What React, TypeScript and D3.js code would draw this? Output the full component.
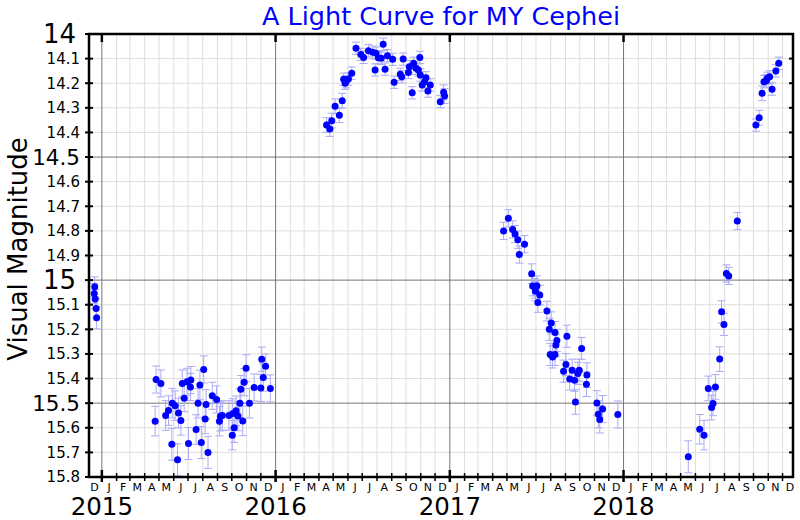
import React from "react";
import * as d3 from "d3";

type Obs = [string, number, number];

const TITLE = "A Light Curve for MY Cephei";
const Y_LABEL = "Visual Magnitude";
const MONTH_LETTERS = ["J", "F", "M", "A", "M", "J", "J", "A", "S", "O", "N", "D"];
const YEARS = [2015, 2016, 2017, 2018];
const Y_TICKS = d3.range(0, 19).map((i) => +(14 + i * 0.1).toFixed(1));

// [date, visual magnitude, error]
const obs2014: Obs[] = [
  ["2014-12-16", 15.054, 0.04], ["2014-12-17", 15.027, 0.04], ["2014-12-18", 15.077, 0.04],
  ["2014-12-20", 15.115, 0.04], ["2014-12-21", 15.153, 0.045],
];
const obs2015: Obs[] = [
  ["2015-04-23", 15.573, 0.06], ["2015-04-25", 15.404, 0.055], ["2015-05-05", 15.42, 0.055],
  ["2015-05-15", 15.55, 0.06], ["2015-05-21", 15.53, 0.06], ["2015-05-28", 15.667, 0.065],
  ["2015-05-29", 15.5, 0.06], ["2015-06-04", 15.51, 0.06], ["2015-06-09", 15.73, 0.065],
  ["2015-06-11", 15.54, 0.06], ["2015-06-16", 15.57, 0.06], ["2015-06-19", 15.42, 0.055],
  ["2015-06-23", 15.48, 0.055], ["2015-06-29", 15.413, 0.055], ["2015-07-02", 15.664, 0.065],
  ["2015-07-06", 15.434, 0.055], ["2015-07-07", 15.406, 0.055], ["2015-07-18", 15.607, 0.06],
  ["2015-07-22", 15.5, 0.06], ["2015-07-26", 15.426, 0.06], ["2015-07-29", 15.66, 0.065],
  ["2015-08-03", 15.363, 0.055], ["2015-08-06", 15.564, 0.06], ["2015-08-08", 15.505, 0.06],
  ["2015-08-12", 15.7, 0.065], ["2015-08-21", 15.47, 0.055], ["2015-08-30", 15.485, 0.055],
  ["2015-09-05", 15.573, 0.06], ["2015-09-07", 15.553, 0.06], ["2015-09-11", 15.55, 0.06],
  ["2015-09-25", 15.55, 0.06], ["2015-10-02", 15.63, 0.06], ["2015-10-03", 15.542, 0.06],
  ["2015-10-06", 15.6, 0.06], ["2015-10-10", 15.531, 0.06], ["2015-10-14", 15.552, 0.06],
  ["2015-10-18", 15.5, 0.06], ["2015-10-20", 15.443, 0.055], ["2015-10-24", 15.572, 0.06],
  ["2015-10-27", 15.415, 0.055], ["2015-10-31", 15.358, 0.055], ["2015-11-07", 15.5, 0.06],
  ["2015-11-17", 15.436, 0.055], ["2015-12-01", 15.438, 0.055], ["2015-12-03", 15.322, 0.05],
  ["2015-12-06", 15.396, 0.055], ["2015-12-11", 15.35, 0.05], ["2015-12-21", 15.44, 0.055],
];
const obs2016: Obs[] = [
  ["2016-04-17", 14.37, 0.03], ["2016-04-24", 14.386, 0.03], ["2016-04-28", 14.352, 0.03],
  ["2016-05-05", 14.294, 0.03], ["2016-05-14", 14.33, 0.03], ["2016-05-20", 14.271, 0.03],
  ["2016-05-23", 14.184, 0.025], ["2016-05-26", 14.2, 0.025], ["2016-05-28", 14.194, 0.025],
  ["2016-06-02", 14.183, 0.025], ["2016-06-09", 14.159, 0.025], ["2016-06-18", 14.058, 0.025],
  ["2016-06-28", 14.083, 0.025], ["2016-07-04", 14.095, 0.025], ["2016-07-14", 14.068, 0.025],
  ["2016-07-23", 14.074, 0.025], ["2016-07-28", 14.146, 0.025], ["2016-07-30", 14.078, 0.025],
  ["2016-08-04", 14.096, 0.025], ["2016-08-10", 14.099, 0.025], ["2016-08-14", 14.042, 0.025],
  ["2016-08-18", 14.143, 0.025], ["2016-08-23", 14.088, 0.025], ["2016-09-03", 14.103, 0.025],
  ["2016-09-06", 14.196, 0.025], ["2016-09-19", 14.164, 0.025], ["2016-09-22", 14.174, 0.025],
  ["2016-09-25", 14.102, 0.025], ["2016-10-06", 14.156, 0.025], ["2016-10-08", 14.133, 0.025],
  ["2016-10-14", 14.239, 0.025], ["2016-10-17", 14.119, 0.025], ["2016-10-22", 14.139, 0.025],
  ["2016-10-27", 14.146, 0.025], ["2016-10-30", 14.095, 0.025], ["2016-10-31", 14.167, 0.025],
  ["2016-11-04", 14.207, 0.025], ["2016-11-09", 14.194, 0.025], ["2016-11-12", 14.178, 0.025],
  ["2016-11-16", 14.232, 0.025], ["2016-11-21", 14.207, 0.025], ["2016-12-12", 14.275, 0.025],
  ["2016-12-19", 14.237, 0.03], ["2016-12-21", 14.252, 0.03],
];
const obs2017: Obs[] = [
  ["2017-04-24", 14.8, 0.035], ["2017-05-04", 14.749, 0.035], ["2017-05-13", 14.794, 0.035],
  ["2017-05-18", 14.813, 0.035], ["2017-05-24", 14.836, 0.035], ["2017-05-27", 14.896, 0.035],
  ["2017-06-07", 14.854, 0.035], ["2017-06-22", 14.974, 0.04], ["2017-06-24", 15.024, 0.04],
  ["2017-06-29", 15.034, 0.04], ["2017-06-30", 15.045, 0.04], ["2017-07-03", 15.023, 0.04],
  ["2017-07-05", 15.091, 0.04], ["2017-07-09", 15.061, 0.04], ["2017-07-24", 15.126, 0.04],
  ["2017-07-29", 15.2, 0.045], ["2017-07-31", 15.302, 0.045], ["2017-08-02", 15.174, 0.045],
  ["2017-08-05", 15.312, 0.045], ["2017-08-10", 15.213, 0.045], ["2017-08-10", 15.302, 0.045],
  ["2017-08-12", 15.264, 0.045], ["2017-08-14", 15.245, 0.045], ["2017-08-28", 15.37, 0.045],
  ["2017-09-02", 15.343, 0.045], ["2017-09-04", 15.228, 0.045], ["2017-09-10", 15.402, 0.045],
  ["2017-09-15", 15.366, 0.045], ["2017-09-20", 15.407, 0.045], ["2017-09-22", 15.495, 0.05],
  ["2017-09-27", 15.379, 0.045], ["2017-09-30", 15.366, 0.045], ["2017-10-05", 15.278, 0.045],
  ["2017-10-15", 15.423, 0.05], ["2017-10-16", 15.386, 0.05], ["2017-11-06", 15.499, 0.05],
  ["2017-11-09", 15.545, 0.055], ["2017-11-12", 15.566, 0.055], ["2017-11-18", 15.524, 0.055],
  ["2017-12-20", 15.546, 0.055],
];
const obs2018: Obs[] = [
  ["2018-05-17", 15.718, 0.065], ["2018-06-10", 15.606, 0.06], ["2018-06-19", 15.63, 0.06],
  ["2018-06-28", 15.44, 0.05], ["2018-07-05", 15.518, 0.05], ["2018-07-08", 15.501, 0.05],
  ["2018-07-13", 15.434, 0.05], ["2018-07-22", 15.321, 0.05], ["2018-07-26", 15.129, 0.045],
  ["2018-07-31", 15.18, 0.045], ["2018-08-05", 14.973, 0.035], ["2018-08-10", 14.983, 0.035],
  ["2018-08-28", 14.76, 0.035], ["2018-10-06", 14.37, 0.025], ["2018-10-13", 14.34, 0.03],
  ["2018-10-19", 14.241, 0.03], ["2018-10-23", 14.194, 0.025], ["2018-10-28", 14.19, 0.025],
  ["2018-10-30", 14.18, 0.025], ["2018-11-04", 14.174, 0.025], ["2018-11-09", 14.224, 0.025],
  ["2018-11-17", 14.15, 0.025], ["2018-11-23", 14.119, 0.025],
];

const allObs = [...obs2014, ...obs2015, ...obs2016, ...obs2017, ...obs2018];

const W = 800;
const H = 520;
const L = 89;
const R = 793;
const T = 34;
const B = 477;
const FONT = "DejaVu Sans, sans-serif";

const parse = d3.utcParse("%Y-%m-%d");

export default function App() {
  const x = d3
    .scaleUtc()
    .domain([new Date(Date.UTC(2014, 11, 5)), new Date(Date.UTC(2018, 11, 23))])
    .range([L, R]);
  const y = d3.scaleLinear().domain([14, 15.8]).range([T, B]);

  const months = d3.utcMonth.range(new Date(Date.UTC(2014, 11, 1)), new Date(Date.UTC(2019, 0, 1)));
  const monthBounds = months.filter((m) => x(m) >= L && x(m) <= R);
  const isYear = (m: Date) => m.getUTCMonth() === 0;

  const tickSize = (v: number) => {
    const r = Math.round(v * 10);
    if (r % 10 === 0) return 26;
    if (r % 5 === 0) return 21.5;
    return 15;
  };
  const isMajorY = (v: number) => Math.round(v * 10) % 5 === 0;
  const isInt = (v: number) => Math.round(v * 10) % 10 === 0;

  return (
    <svg
      width={W}
      height={H}
      style={{ position: "absolute", left: 0, top: 0, background: "#fff" }}
      fontFamily={FONT}
    >
      <rect x={0} y={0} width={W} height={H} fill="#fff" />
      {/* minor grid */}
      <g stroke="#dedede" strokeWidth={1}>
        {monthBounds.filter((m) => !isYear(m)).map((m, i) => (
          <line key={"mv" + i} x1={x(m)} x2={x(m)} y1={T} y2={B} />
        ))}
        {Y_TICKS.filter((v) => !isMajorY(v)).map((v, i) => (
          <line key={"mh" + i} x1={L} x2={R} y1={y(v)} y2={y(v)} />
        ))}
      </g>
      {/* major grid */}
      <g stroke="#777" strokeWidth={1}>
        {monthBounds.filter(isYear).map((m, i) => (
          <line key={"Mv" + i} x1={x(m)} x2={x(m)} y1={T} y2={B} />
        ))}
        {Y_TICKS.filter((v) => isMajorY(v) && v > 14 && v < 15.8).map((v, i) => (
          <line key={"Mh" + i} x1={L} x2={R} y1={y(v)} y2={y(v)} />
        ))}
      </g>
      {/* error bars */}
      <g stroke="#aaaaf8" strokeWidth={1}>
        {allObs.map((o, i) => {
          const cx = x(parse(o[0]) as Date);
          const y1 = y(o[1] - o[2]);
          const y2 = y(o[1] + o[2]);
          return (
            <g key={"e" + i}>
              <line x1={cx} x2={cx} y1={y1} y2={y2} />
              <line x1={cx - 4} x2={cx + 4} y1={y1} y2={y1} />
              <line x1={cx - 4} x2={cx + 4} y1={y2} y2={y2} />
            </g>
          );
        })}
      </g>
      {/* points */}
      <g fill="#0000ff">
        {allObs.map((o, i) => (
          <circle key={"p" + i} cx={x(parse(o[0]) as Date)} cy={y(o[1])} r={3.5} />
        ))}
      </g>
      {/* frame */}
      <rect x={L} y={T} width={R - L} height={B - T} fill="none" stroke="#000" strokeWidth={2.5} />
      {/* left & right ticks */}
      <g stroke="#000" strokeWidth={2}>
        {Y_TICKS.map((v, i) => (
          <g key={"yt" + i}>
            <line x1={L - 4} x2={L + 4} y1={y(v)} y2={y(v)} />
            <line x1={R - 4} x2={R + 1} y1={y(v)} y2={y(v)} />
          </g>
        ))}
      </g>
      {/* bottom ticks */}
      <g stroke="#000">
        {monthBounds.map((m, i) => (
          <line
            key={"xt" + i}
            x1={x(m)}
            x2={x(m)}
            y1={isYear(m) ? B - 7 : B - 4}
            y2={isYear(m) ? B + 5 : B + 4}
            strokeWidth={isYear(m) ? 2.5 : 1.5}
          />
        ))}
        {monthBounds.filter(isYear).map((m, i) => (
          <line key={"tt" + i} x1={x(m)} x2={x(m)} y1={T} y2={T + 8} strokeWidth={2.5} />
        ))}
      </g>
      {/* y tick labels */}
      <g fill="#000" textAnchor="end">
        {Y_TICKS.map((v, i) => (
          <text
            key={"yl" + i}
            x={isInt(v) ? 76 : 80}
            y={y(v)}
            dy="0.36em"
            fontSize={tickSize(v)}
          >
            {isInt(v) ? String(Math.round(v)) : v.toFixed(1)}
          </text>
        ))}
      </g>
      {/* month labels */}
      <g fill="#000" textAnchor="middle" fontSize={11}>
        {months.map((m, i) => {
          const next = d3.utcMonth.offset(m, 1);
          const cx = (x(m) + x(next)) / 2;
          return (
            <text key={"ml" + i} x={cx} y={490.5}>
              {MONTH_LETTERS[m.getUTCMonth()]}
            </text>
          );
        })}
      </g>
      {/* year labels */}
      <g fill="#000" textAnchor="middle" fontSize={24.5}>
        {YEARS.map((yr) => (
          <text key={"yr" + yr} x={x(new Date(Date.UTC(yr, 0, 1)))} y={515}>
            {yr}
          </text>
        ))}
      </g>
      <text x={(L + R) / 2} y={25} textAnchor="middle" fontSize={25.5} fill="#0000ff">
        {TITLE}
      </text>
      <text
        transform={`translate(27, 249) rotate(-90)`}
        textAnchor="middle"
        fontSize={26}
        fill="#000"
      >
        {Y_LABEL}
      </text>
    </svg>
  );
}
